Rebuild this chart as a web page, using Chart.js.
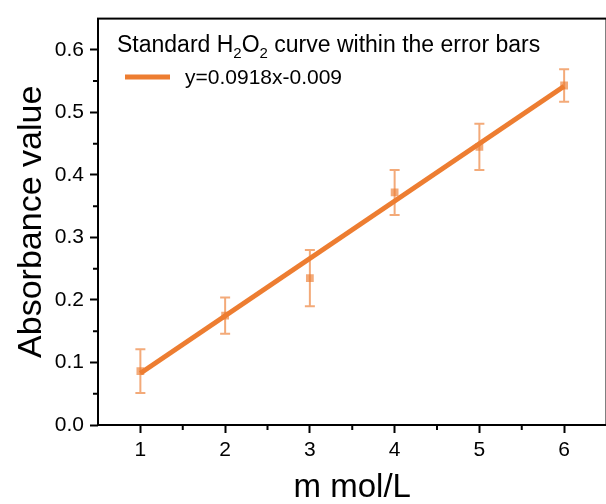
<!DOCTYPE html>
<html>
<head>
<meta charset="utf-8">
<script src="https://cdn.jsdelivr.net/npm/chart.js@4/dist/chart.umd.min.js"></script>
<style>
    html, body { margin: 0; padding: 0; background: #fff; overflow: hidden; }
    #wrap { width: 612px; height: 504px; }
</style>
</head>
<body>
<div id="wrap"><canvas id="h2o2Chart"></canvas></div>
<script>
const concentrations = [1, 2, 3, 4, 5, 6];
const absorbance = [0.086, 0.175, 0.235, 0.372, 0.445, 0.543];
const errors = [0.035, 0.029, 0.045, 0.036, 0.037, 0.026];

// linear fit drawn between the first and last concentration
const fitX = [1, 6];
const fitY = [0.0828, 0.5418];

const xTicks = [1, 2, 3, 4, 5, 6];
const xMinorTicks = [1.5, 2.5, 3.5, 4.5, 5.5];
const yTicks = [0, 0.1, 0.2, 0.3, 0.4, 0.5, 0.6];
const yMinorTicks = [0.05, 0.15, 0.25, 0.35, 0.45, 0.55];

const legendTitle = ['Standard H', '2', 'O', '2', ' curve within the error bars'];
const fitLabel = 'y=0.0918x-0.009';

const FONT = '"Liberation Sans", Arial, sans-serif';
const lineColor = '#ED7D31';
const pointColor = 'rgba(237, 125, 49, 0.65)';

const errorBars = {
    id: 'errorBars',
    beforeDatasetsDraw(chart) {
        const { ctx, scales: { x, y } } = chart;
        ctx.save();
        ctx.strokeStyle = pointColor;
        ctx.lineWidth = 2;
        concentrations.forEach((c, i) => {
            const px = x.getPixelForValue(c);
            const top = y.getPixelForValue(absorbance[i] + errors[i]);
            const bottom = y.getPixelForValue(absorbance[i] - errors[i]);
            ctx.beginPath();
            ctx.moveTo(px, top);
            ctx.lineTo(px, bottom);
            ctx.moveTo(px - 5, top);
            ctx.lineTo(px + 5, top);
            ctx.moveTo(px - 5, bottom);
            ctx.lineTo(px + 5, bottom);
            ctx.stroke();
        });
        ctx.restore();
    }
};

const frameAndLegend = {
    id: 'frameAndLegend',
    afterDraw(chart) {
        const { ctx, chartArea: a, scales: { x, y } } = chart;
        ctx.save();
        ctx.strokeStyle = '#000';
        ctx.lineWidth = 2;
        ctx.strokeRect(a.left, a.top, a.right - a.left, a.bottom - a.top);

        // minor ticks
        ctx.beginPath();
        xMinorTicks.forEach(v => {
            const px = x.getPixelForValue(v);
            ctx.moveTo(px, a.bottom);
            ctx.lineTo(px, a.bottom + 5);
        });
        yMinorTicks.forEach(v => {
            const py = y.getPixelForValue(v);
            ctx.moveTo(a.left, py);
            ctx.lineTo(a.left - 5, py);
        });
        ctx.stroke();

        // legend title with subscripts
        ctx.fillStyle = '#000';
        ctx.textBaseline = 'alphabetic';
        let tx = a.left + 19;
        const ty = 52;
        legendTitle.forEach((part, i) => {
            const sub = i === 1 || i === 3;
            ctx.font = (sub ? '15px ' : '23px ') + FONT;
            ctx.fillText(part, tx, sub ? ty + 6 : ty);
            tx += ctx.measureText(part).width;
        });

        // legend entry
        ctx.strokeStyle = lineColor;
        ctx.lineWidth = 5;
        ctx.beginPath();
        ctx.moveTo(a.left + 27, 77);
        ctx.lineTo(a.left + 72, 77);
        ctx.stroke();
        ctx.font = '21px ' + FONT;
        ctx.fillText(fitLabel, a.left + 87, 84);
        ctx.restore();
    }
};

new Chart(document.getElementById('h2o2Chart'), {
    type: 'scatter',
    data: {
        datasets: [{
            label: fitLabel,
            data: fitX.map((v, i) => ({ x: v, y: fitY[i] })),
            showLine: true,
            borderColor: lineColor,
            borderWidth: 5,
            pointRadius: 0,
            order: 0,
        }, {
            label: 'measured',
            data: concentrations.map((v, i) => ({ x: v, y: absorbance[i] })),
            pointStyle: 'rect',
            pointRadius: 5.5,
            backgroundColor: pointColor,
            borderColor: pointColor,
            borderWidth: 0,
            order: 1,
        }]
    },
    options: {
        responsive: true,
        maintainAspectRatio: false,
        animation: false,
        layout: { padding: { top: 14, right: 5, left: 0, bottom: 0 } },
        scales: {
            x: {
                type: 'linear',
                min: 0.5,
                max: 6.5,
                afterBuildTicks: (scale) => { scale.ticks = xTicks.map(v => ({ value: v })); },
                afterFit: (scale) => { scale.height = 79; },
                border: { display: false },
                grid: {
                    drawOnChartArea: false,
                    tickLength: 8,
                    tickWidth: 2,
                    tickColor: '#000',
                },
                ticks: {
                    color: '#000',
                    padding: 5,
                    font: { family: FONT, size: 21 },
                    callback: (v) => String(v),
                },
                title: {
                    display: true,
                    text: 'm mol/L',
                    color: '#000',
                    font: { family: FONT, size: 33, lineHeight: 1 },
                    padding: { top: 0, bottom: 0 },
                }
            },
            y: {
                type: 'linear',
                min: 0,
                max: 0.65,
                afterBuildTicks: (scale) => { scale.ticks = yTicks.map(v => ({ value: v })); },
                afterFit: (scale) => { scale.width = 98; },
                border: { display: false },
                grid: {
                    drawOnChartArea: false,
                    tickLength: 8,
                    tickWidth: 2,
                    tickColor: '#000',
                },
                ticks: {
                    color: '#000',
                    padding: 6,
                    font: { family: FONT, size: 21 },
                    callback: (v) => v.toFixed(1),
                },
                title: {
                    display: true,
                    text: 'Absorbance value',
                    color: '#000',
                    font: { family: FONT, size: 34, lineHeight: 1.2 },
                    padding: { top: 11, bottom: 0 },
                }
            }
        },
        plugins: {
            legend: { display: false },
            tooltip: { enabled: false },
        }
    },
    plugins: [errorBars, frameAndLegend]
});
</script>
</body>
</html>
